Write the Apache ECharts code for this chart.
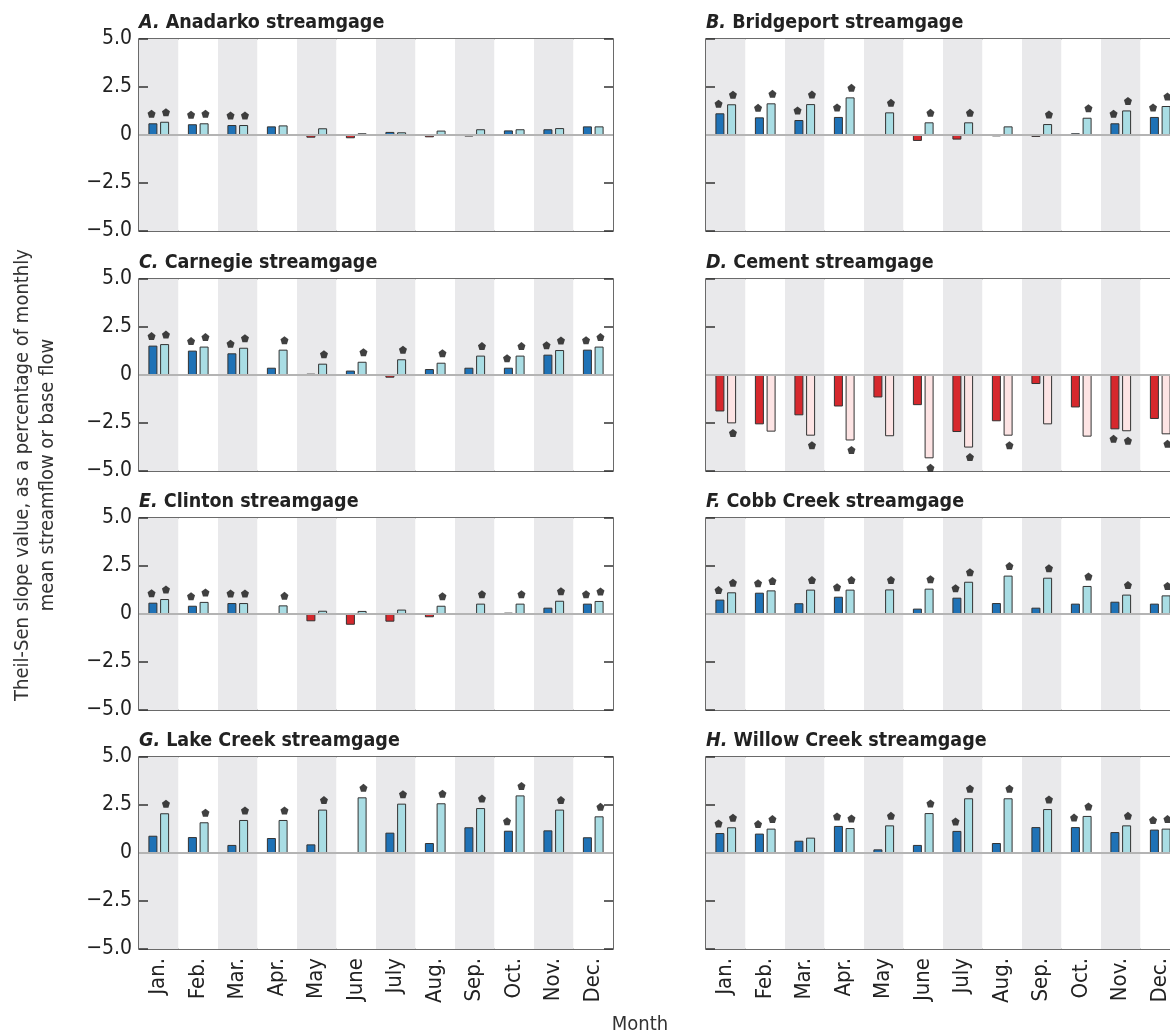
<!DOCTYPE html>
<html><head><meta charset="utf-8">
<script src="https://cdn.jsdelivr.net/npm/echarts@6/dist/echarts.min.js"></script>
<style>html,body{margin:0;padding:0;background:#fff}#c{width:1170px;height:1035px}</style>
</head><body><div id="c"></div>
<script>
// ---------- data ----------
const months = ['Jan.','Feb.','Mar.','Apr.','May','June','July','Aug.','Sep.','Oct.','Nov.','Dec.'];
const yMin = -5, yMax = 5, yInterval = 2.5;

const panelLetters = ['A','B','C','D','E','F','G','H'];
const panelNames = ['Anadarko','Bridgeport','Carnegie','Cement','Clinton','Cobb Creek','Lake Creek','Willow Creek'];

// streamflow (dark) and base flow (light) Theil-Sen slopes, % per year
const anadarkoStream   = [0.61,0.56,0.52,0.45,-0.14,-0.17,0.16,-0.12,-0.08,0.24,0.30,0.45];
const anadarkoBase     = [0.69,0.61,0.52,0.50,0.35,0.09,0.14,0.23,0.30,0.30,0.36,0.45];
const anadarkoStreamSig= [1,1,1,0,0,0,0,0,0,0,0,0];
const anadarkoBaseSig  = [1,1,1,0,0,0,0,0,0,0,0,0];

const bridgeportStream   = [1.13,0.92,0.78,0.94,-0.03,-0.31,-0.24,-0.07,-0.10,0.09,0.61,0.94];
const bridgeportBase     = [1.60,1.65,1.61,1.96,1.18,0.66,0.66,0.45,0.57,0.90,1.28,1.51];
const bridgeportStreamSig= [1,1,1,1,0,0,0,0,0,0,1,1];
const bridgeportBaseSig  = [1,1,1,1,1,1,1,0,1,1,1,1];

const carnegieStream   = [1.53,1.27,1.13,0.38,0.07,0.23,-0.14,0.31,0.38,0.38,1.06,1.32];
const carnegieBase     = [1.61,1.48,1.42,1.32,0.59,0.69,0.82,0.64,1.01,1.01,1.30,1.48];
const carnegieStreamSig= [1,1,1,0,0,0,0,0,0,1,1,1];
const carnegieBaseSig  = [1,1,1,1,1,1,1,1,1,1,1,1];

const cementStream   = [-1.90,-2.57,-2.10,-1.64,-1.17,-1.57,-2.97,-2.41,-0.47,-1.69,-2.83,-2.29];
const cementBase     = [-2.52,-2.95,-3.16,-3.41,-3.19,-4.34,-3.78,-3.16,-2.57,-3.21,-2.93,-3.09];
const cementStreamSig= [0,0,0,0,0,0,0,0,0,0,1,0];
const cementBaseSig  = [1,0,1,1,0,1,1,1,0,0,1,1];

const clintonStream   = [0.59,0.43,0.57,-0.05,-0.38,-0.56,-0.40,-0.17,-0.05,0.07,0.33,0.54];
const clintonBase     = [0.78,0.63,0.57,0.45,0.17,0.16,0.23,0.43,0.54,0.54,0.69,0.68];
const clintonStreamSig= [1,1,1,0,0,0,0,0,0,0,0,1];
const clintonBaseSig  = [1,1,1,1,0,0,0,1,1,1,1,1];

const cobbStream   = [0.75,1.11,0.56,0.90,0.03,0.28,0.85,0.57,0.33,0.54,0.64,0.54];
const cobbBase     = [1.13,1.23,1.27,1.27,1.28,1.32,1.68,2.00,1.89,1.46,1.01,0.97];
const cobbStreamSig= [1,1,0,1,0,0,1,0,0,0,0,0];
const cobbBaseSig  = [1,1,1,1,1,1,1,1,1,1,1,1];

const lakeStream   = [0.90,0.83,0.42,0.78,0.45,0.05,1.06,0.52,1.34,1.16,1.18,0.82];
const lakeBase     = [2.07,1.60,1.72,1.72,2.26,2.90,2.57,2.59,2.34,3.00,2.26,1.91];
const lakeStreamSig= [0,0,0,0,0,0,0,0,0,1,0,0];
const lakeBaseSig  = [1,1,1,1,1,1,1,1,1,1,1,1];

const willowStream   = [1.04,1.01,0.64,1.41,0.19,0.42,1.15,0.52,1.35,1.35,1.09,1.22];
const willowBase     = [1.34,1.27,0.80,1.30,1.44,2.08,2.85,2.85,2.29,1.93,1.44,1.27];
const willowStreamSig= [1,1,0,1,0,0,1,0,0,1,0,1];
const willowBaseSig  = [1,1,0,1,1,1,1,1,1,1,1,1];

const streamSets = [anadarkoStream,bridgeportStream,carnegieStream,cementStream,clintonStream,cobbStream,lakeStream,willowStream];
const baseSets   = [anadarkoBase,bridgeportBase,carnegieBase,cementBase,clintonBase,cobbBase,lakeBase,willowBase];
const streamSigSets = [anadarkoStreamSig,bridgeportStreamSig,carnegieStreamSig,cementStreamSig,clintonStreamSig,cobbStreamSig,lakeStreamSig,willowStreamSig];
const baseSigSets   = [anadarkoBaseSig,bridgeportBaseSig,carnegieBaseSig,cementBaseSig,clintonBaseSig,cobbBaseSig,lakeBaseSig,willowBaseSig];

// ---------- styling ----------
const FONT = '"Liberation Sans Narrow","DejaVu Sans Condensed","Liberation Sans",sans-serif';
const DARK_BLUE = '#1f72b6', LIGHT_BLUE = '#a9dde4', RED = '#d6282d', PINK = '#fde4e4';
const BAND = '#e9e9eb', EDGE = '#333333', TEXT = '#222222';
const colLeft = [139, 706], rowTop = [39, 279, 518, 757];
const PW = 474, PH = 192;
const BAR_W = 9, BAR_GAP = '30%';
const HALF = (BAR_W * 2 * 1.3) / 2 - BAR_W / 2; // center offset of each bar
const STAR_OFF = 9.5;
const STAR = 'path://M0,-1L0.951,-0.309L0.588,0.809L-0.588,0.809L-0.951,-0.309Z';

const fmt = v => v === 0 ? '0' : (v < 0 ? '\u2212' : '') + Math.abs(v).toFixed(1);

const grids = [], xAxes = [], yAxes = [], series = [], titles = [];
for (let k = 0; k < 8; k++) {
  const col = k % 2, row = Math.floor(k / 2);
  grids.push({left: colLeft[col], top: rowTop[row], width: PW, height: PH,
    containLabel: false, outerBoundsMode: 'none',
    show: true, borderColor: '#3a3a3a', borderWidth: 1.5, backgroundColor: 'transparent'});
  xAxes.push({type: 'category', gridIndex: k, data: months,
    axisLine: {show: false}, axisTick: {show: false},
    axisLabel: {show: row === 3, rotate: 90, fontSize: 22, color: TEXT, margin: 9, fontFamily: FONT},
    splitLine: {show: false},
    splitArea: {show: true, interval: 0, areaStyle: {color: [BAND, '#ffffff']}}});
  const yBase = {type: 'value', gridIndex: k, min: yMin, max: yMax, interval: yInterval,
    axisLine: {show: false}, splitLine: {show: false},
    axisTick: {show: true, inside: true, length: 9, lineStyle: {color: EDGE, width: 1.5}}};
  yAxes.push(Object.assign({}, yBase, {position: 'left',
    axisLabel: {show: col === 0, formatter: fmt, fontSize: 21, color: TEXT, margin: 7, fontFamily: FONT}}));
  yAxes.push(Object.assign({}, yBase, {position: 'right', axisLabel: {show: false}}));

  titles.push({left: colLeft[col], top: rowTop[row] - 26, padding: 0,
    text: '{i|' + panelLetters[k] + '.}{b| ' + panelNames[k] + ' streamgage}',
    textStyle: {rich: {
      i: {fontFamily: FONT, fontSize: 19.5, fontWeight: 'bold', fontStyle: 'italic', color: TEXT},
      b: {fontFamily: FONT, fontSize: 19.5, fontWeight: 'bold', color: TEXT}}}});

  const sv = streamSets[k], bv = baseSets[k];
  series.push({type: 'bar', name: 'Streamflow', xAxisIndex: k, yAxisIndex: 2 * k,
    barWidth: BAR_W, barGap: BAR_GAP, data: sv, z: 2,
    itemStyle: {color: p => p.value < 0 ? RED : DARK_BLUE, borderColor: EDGE, borderWidth: 1}});
  series.push({type: 'bar', name: 'Base flow', xAxisIndex: k, yAxisIndex: 2 * k,
    barWidth: BAR_W, barGap: BAR_GAP, data: bv, z: 2,
    itemStyle: {color: p => p.value < 0 ? PINK : LIGHT_BLUE, borderColor: EDGE, borderWidth: 1},
    markLine: {silent: true, symbol: 'none', label: {show: false},
      lineStyle: {color: '#b4b4b4', width: 2, type: 'solid'}, data: [{yAxis: 0}]}});
  const stars = [];
  for (let i = 0; i < months.length; i++) {
    if (streamSigSets[k][i]) stars.push({value: [i, sv[i]], symbolOffset: [-HALF, sv[i] < 0 ? STAR_OFF : -STAR_OFF]});
    if (baseSigSets[k][i]) stars.push({value: [i, bv[i]], symbolOffset: [HALF, bv[i] < 0 ? STAR_OFF : -STAR_OFF]});
  }
  series.push({type: 'scatter', name: 'Significant', xAxisIndex: k, yAxisIndex: 2 * k,
    symbol: STAR, symbolSize: 8, data: stars, z: 5, silent: true,
    itemStyle: {color: '#111111'}});
}

const chart = echarts.init(document.getElementById('c'), null, {renderer: 'canvas'});
chart.setOption({
  animation: false,
  backgroundColor: '#ffffff',
  title: titles,
  grid: grids, xAxis: xAxes, yAxis: yAxes, series: series,
  graphic: [
    {type: 'text', x: 23, y: 475, rotation: Math.PI / 2,
      style: {text: 'Theil-Sen slope value, as a percentage of monthly', fontFamily: FONT, fontSize: 20,
        fill: '#333', textAlign: 'center', textVerticalAlign: 'middle'}},
    {type: 'text', x: 48, y: 475, rotation: Math.PI / 2,
      style: {text: 'mean streamflow or base flow', fontFamily: FONT, fontSize: 20,
        fill: '#333', textAlign: 'center', textVerticalAlign: 'middle'}},
    {type: 'text', x: 640, y: 1025,
      style: {text: 'Month', fontFamily: FONT, fontSize: 20, fill: '#333', textAlign: 'center', textVerticalAlign: 'middle'}}
  ]
});
</script></body></html>
